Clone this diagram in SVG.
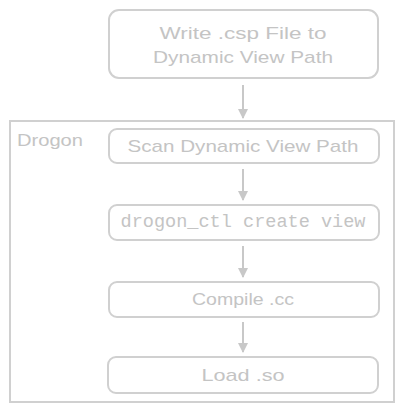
<svg xmlns="http://www.w3.org/2000/svg" width="404" height="412" viewBox="0 0 404 412">
<defs>
<style>
.box{fill:#ffffff;stroke:#d0d0d0;stroke-width:2}
.cont{fill:none;stroke:#d0d0d0;stroke-width:2}
.t{font-family:"Liberation Sans","DejaVu Sans",sans-serif;font-size:17px;fill:#c4c4c4;text-anchor:middle;dominant-baseline:central}
.m{font-family:"Liberation Mono","DejaVu Sans Mono",monospace;font-size:18px;fill:#c4c4c4;text-anchor:middle;dominant-baseline:central}
.edge{stroke:#c8c8c8;stroke-width:2;fill:none;marker-end:url(#ah)}
</style>
<marker id="ah" viewBox="0 0 10 10" refX="9" refY="5" markerWidth="5" markerHeight="5" orient="auto" markerUnits="strokeWidth">
<path d="M0,0 L10,5 L0,10 z" fill="#c8c8c8"/>
</marker>
</defs>
<rect width="404" height="412" fill="#ffffff"/>
<g id="drogon">
<rect class="cont" x="10" y="121" width="384" height="281"/>
<text class="t" x="50" y="140" textLength="66" lengthAdjust="spacingAndGlyphs">Drogon</text>
</g>
<g id="connectors">
<line class="edge" x1="243" y1="85" x2="243" y2="118"/>
<line class="edge" x1="243" y1="169" x2="243" y2="200"/>
<line class="edge" x1="243" y1="246" x2="243" y2="277"/>
<line class="edge" x1="243" y1="322" x2="243" y2="352"/>
</g>
<g id="write">
<rect class="box" x="109" y="10" width="269" height="68" rx="10"/>
<text class="t" x="243" y="33" textLength="167" lengthAdjust="spacingAndGlyphs">Write .csp File to</text>
<text class="t" x="243" y="57" textLength="180" lengthAdjust="spacingAndGlyphs">Dynamic View Path</text>
</g>
<g id="scan">
<rect class="box" x="109" y="129" width="270" height="34" rx="8"/>
<text class="t" x="243" y="146" textLength="231" lengthAdjust="spacingAndGlyphs">Scan Dynamic View Path</text>
</g>
<g id="create">
<rect class="box" x="109" y="205" width="270" height="35" rx="8"/>
<text class="m" x="243" y="222" textLength="245" lengthAdjust="spacingAndGlyphs">drogon_ctl create view</text>
</g>
<g id="compile">
<rect class="box" x="109" y="282" width="270" height="35" rx="8"/>
<text class="t" x="243" y="299" textLength="102" lengthAdjust="spacingAndGlyphs">Compile .cc</text>
</g>
<g id="load">
<rect class="box" x="108" y="357" width="270" height="36" rx="8"/>
<text class="t" x="243" y="375" textLength="83" lengthAdjust="spacingAndGlyphs">Load .so</text>
</g>
</svg>
